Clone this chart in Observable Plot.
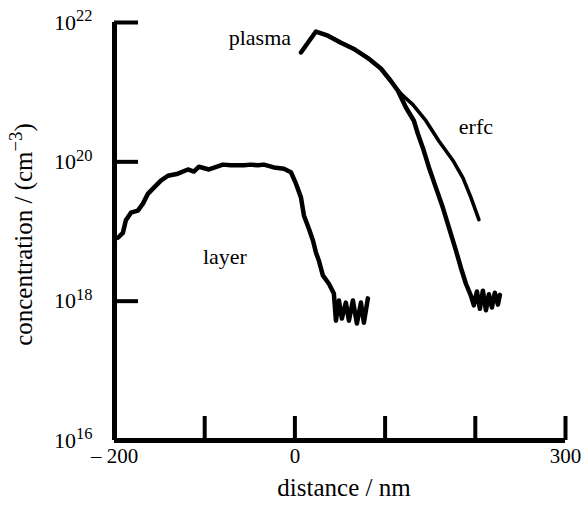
<!DOCTYPE html>
<html>
<head>
<meta charset="utf-8">
<script src="https://cdn.jsdelivr.net/npm/d3@7"></script>
<script src="https://cdn.jsdelivr.net/npm/@observablehq/plot@0.6"></script>
<style>
  html, body { margin: 0; padding: 0; background: #fff; }
</style>
</head>
<body>
<div id="chart"></div>
<script>
// distances in nm, concentrations as log10(cm^-3)
const layerX = [-196.2,-190.7,-187.4,-181.8,-174.1,-168.5,-163.0,-156.3,-148.6,-140.8,-129.7,-118.6,-112.0,-106.4,-95.3,-79.8,-71.0,-56.5,-48.8,-41.0,-34.4,-23.3,-12.2,-4.4,1.1,6.7,10.0,15.5,20.0,23.3,26.6,31.0,37.7,43.2,45.5,48.8,52.1,56.5,59.9,64.3,68.7,73.2,76.5,80.9];
const layerLog = [18.91,18.98,19.16,19.27,19.30,19.40,19.54,19.63,19.73,19.80,19.83,19.89,19.86,19.93,19.89,19.96,19.95,19.95,19.96,19.95,19.96,19.92,19.90,19.85,19.69,19.49,19.23,19.04,18.87,18.70,18.58,18.37,18.25,18.11,17.72,18.01,17.75,17.98,17.72,18.01,17.68,17.98,17.69,18.04];

const plasmaX = [6.7,23.3,36.6,51.0,65.4,80.9,95.3,106.4,114.2,123.1,131.9,136.4,141.9,148.6,156.3,164.1,170.7,178.5,184.0,189.6,195.1,198.4,201.8,205.1,208.4,211.8,215.1,218.4,221.7,225.1,227.3];
const plasmaLog = [21.57,21.87,21.81,21.71,21.62,21.49,21.34,21.16,21.02,20.78,20.59,20.40,20.20,19.92,19.63,19.34,19.06,18.73,18.48,18.25,18.08,17.94,18.14,17.89,18.15,17.87,18.10,17.91,18.12,17.95,18.09];

const erfcX = [30.0,36.6,51.0,65.4,80.9,95.3,106.4,112.0,119.7,130.8,145.2,159.6,175.2,186.3,195.1,204.0];
const erfcLog = [21.84,21.81,21.71,21.62,21.49,21.34,21.16,21.06,20.95,20.82,20.59,20.30,20.02,19.77,19.49,19.17];

const xTicks = [-100, 0, 100, 200, 300];
const xLabelValues = [-200, 0, 300];
const xLabels = ["\u2013 200", "0", "300"];
const yTicks = [1e18, 1e20, 1e22];
const yLabelValues = [1e16, 1e18, 1e20, 1e22];
const yLabels = ["10^16", "10^18", "10^20", "10^22"];

const curveNames = ["plasma", "erfc", "layer"];
const curveLabelX = [-38.8, 200.7, -77.6];
const curveLabelLog = [21.78, 20.505, 18.64];

const xTitle = "distance / nm";
const yTitle = "concentration / (cm^\u22123^)";

const toRows = (xs, ls) => xs.map((x, i) => ({x, c: 10 ** ls[i]}));
const layer = toRows(layerX, layerLog);
const plasma = toRows(plasmaX, plasmaLog);
const erfc = toRows(erfcX, erfcLog);
const labels = curveNames.map((name, i) => ({name, x: curveLabelX[i], c: 10 ** curveLabelLog[i]}));

const W = 585, H = 513, mL = 114, mR = 20, mT = 22, mB = 73;
const frameW = W - mL - mR, frameH = H - mT - mB;
const tickLen = 24;

const chart = Plot.plot({
  width: W,
  height: H,
  marginLeft: mL,
  marginRight: mR,
  marginTop: mT,
  marginBottom: mB,
  style: {fontFamily: "'Liberation Serif', 'Times New Roman', serif", fontSize: "21px", background: "#fff", color: "#000", overflow: "visible"},
  x: {domain: [-200, 300]},
  y: {type: "log", domain: [1e16, 1e22]},
  marks: [
    Plot.ruleX([-200], {stroke: "#000", strokeWidth: 5}),
    Plot.ruleY([1e16], {stroke: "#000", strokeWidth: 5}),
    Plot.tickX(xTicks, {x: d => d, stroke: "#000", strokeWidth: 4, insetTop: frameH - tickLen}),
    Plot.tickY(yTicks, {y: d => d, stroke: "#000", strokeWidth: 4, insetRight: frameW - tickLen}),
    Plot.line(layer, {x: "x", y: "c", stroke: "#000", strokeWidth: 4.5, strokeLinejoin: "round"}),
    Plot.line(erfc, {x: "x", y: "c", stroke: "#000", strokeWidth: 3.6, strokeLinejoin: "round"}),
    Plot.line(plasma, {x: "x", y: "c", stroke: "#000", strokeWidth: 4.5, strokeLinejoin: "round"}),
    Plot.text(labels, {x: "x", y: "c", text: "name", fontSize: 22, fill: "#000"}),
    Plot.axisX({ticks: xLabelValues, tickSize: 0, tickPadding: 8, tickFormat: d => xLabels[xLabelValues.indexOf(d)], label: null, fontSize: 21}),
    Plot.axisY({ticks: yLabelValues, tickSize: 0, tickPadding: 22, tickFormat: d => yLabels[yLabelValues.indexOf(d)], label: null, fontSize: 22}),
    Plot.text([xTitle], {text: d => d, frameAnchor: "bottom", textAnchor: "middle", lineAnchor: "middle", dx: 4, dy: 47, fontSize: 25, fill: "#000"}),
    Plot.text([yTitle], {text: d => d, frameAnchor: "left", textAnchor: "middle", lineAnchor: "middle", rotate: -90, dx: -91, dy: 3, fontSize: 25, fill: "#000"})
  ]
});

// turn ^...^ segments into superscript tspans
const NS = "http://www.w3.org/2000/svg";
chart.querySelectorAll("text").forEach(t => {
  if (t.children.length === 0 && t.textContent.includes("^")) {
    const parts = t.textContent.split("^");
    t.textContent = "";
    parts.forEach((p, i) => {
      if (!p) return;
      const ts = document.createElementNS(NS, "tspan");
      ts.textContent = p;
      if (i % 2 === 1) {
        ts.setAttribute("dy", "-0.5em");
        ts.style.fontSize = "0.75em";
      } else if (i > 0) {
        ts.setAttribute("dy", "0.375em");
      }
      t.appendChild(ts);
    });
  }
});

document.getElementById("chart").appendChild(chart);
</script>
</body>
</html>
